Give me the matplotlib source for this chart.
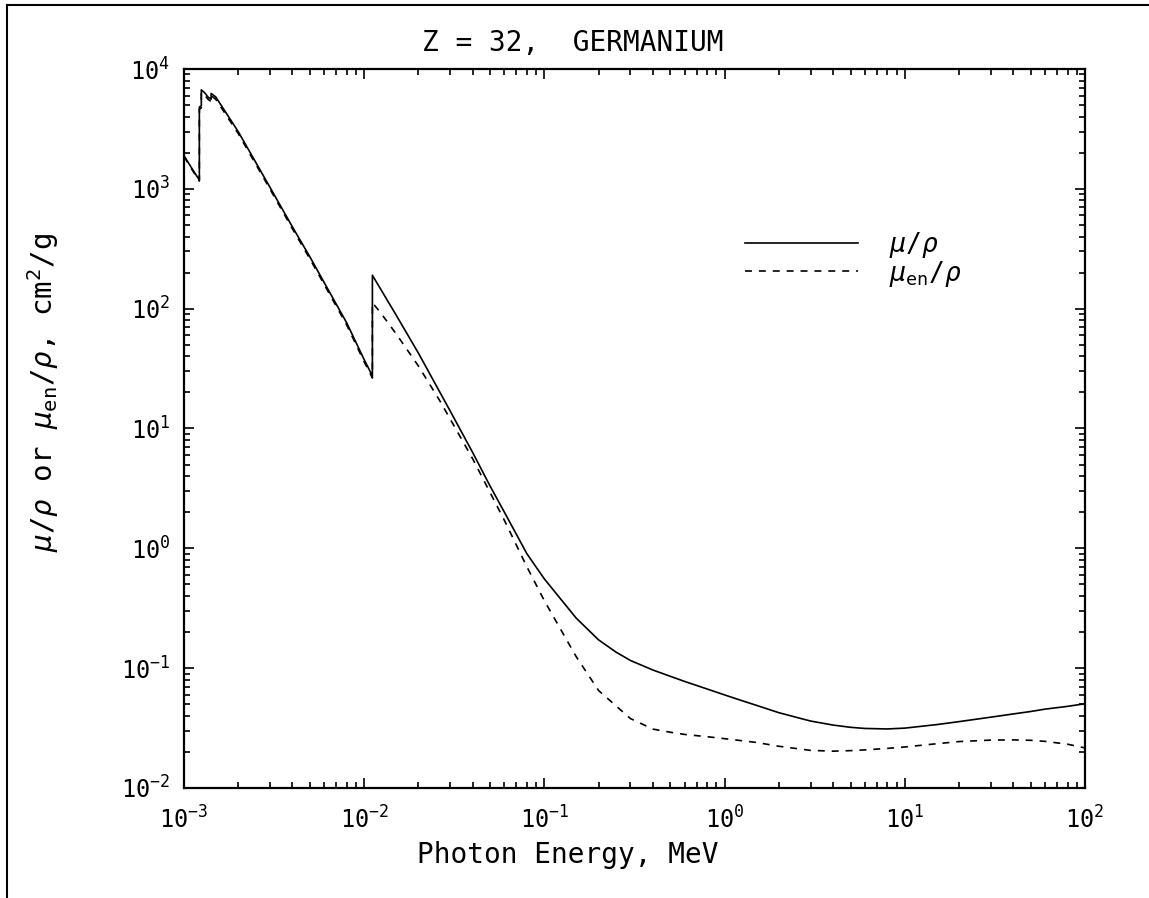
import numpy as np
import matplotlib
matplotlib.use("Agg")
import matplotlib.pyplot as plt
from matplotlib.lines import Line2D

plt.rcParams['lines.scale_dashes'] = False
plt.rcParams['font.family'] = ['DejaVu Sans Mono', 'DejaVu Sans']
plt.rcParams['mathtext.fontset'] = 'custom'
plt.rcParams['mathtext.rm'] = 'DejaVu Sans Mono'
plt.rcParams['mathtext.it'] = 'DejaVu Sans Mono:italic'
plt.rcParams['mathtext.bf'] = 'DejaVu Sans Mono:bold'

# photon energy, MeV (edges repeated)
energy_mu = [1.0e-3, 1.1e-3, 1.2167e-3, 1.2167e-3, 1.2478e-3, 1.2478e-3, 1.30e-3, 1.364e-3,
             1.4143e-3, 1.4143e-3, 1.5e-3, 2.0e-3, 3.0e-3, 4.0e-3, 5.0e-3, 6.0e-3, 8.0e-3,
             1.0e-2, 1.1103e-2, 1.1103e-2, 1.5e-2, 2.0e-2, 3.0e-2, 4.0e-2, 5.0e-2, 6.0e-2,
             8.0e-2, 0.1, 0.15, 0.2, 0.25, 0.3, 0.4, 0.5, 0.6, 0.8, 1.0, 1.25, 1.5, 2.0,
             3.0, 4.0, 5.0, 6.0, 8.0, 10.0, 15.0, 20.0, 30.0, 40.0, 50.0, 60.0, 80.0, 100.0]
# mass attenuation coefficient mu/rho, cm2/g
mu_rho = [1890, 1500, 1185, 4800, 4950, 6700, 6350, 5800,
          5600, 6250, 5850, 3000, 1030, 480, 270, 165, 76,
          37.5, 27.5, 190, 89, 42.5, 14.0, 6.3, 3.3, 2.0,
          0.90, 0.555, 0.262, 0.172, 0.136, 0.116, 0.0965, 0.0855, 0.0775, 0.0670, 0.0598,
          0.0535, 0.0490, 0.0425, 0.0362, 0.0335, 0.0321, 0.0314, 0.0311, 0.0316, 0.0338,
          0.0358, 0.0390, 0.0415, 0.0435, 0.0455, 0.0480, 0.0505]

energy_en = [1.0e-3, 1.1e-3, 1.2167e-3, 1.2167e-3, 1.2478e-3, 1.2478e-3, 1.30e-3, 1.364e-3,
             1.4143e-3, 1.4143e-3, 1.5e-3, 2.0e-3, 3.0e-3, 4.0e-3, 5.0e-3, 6.0e-3, 8.0e-3,
             1.0e-2, 1.1103e-2, 1.1103e-2, 1.22e-2, 1.5e-2, 2.0e-2, 2.63e-2, 3.0e-2, 4.0e-2,
             5.2e-2, 6.0e-2, 8.0e-2, 0.1, 0.15, 0.2, 0.3, 0.4, 0.5, 0.6, 0.8, 1.0,
             1.5, 2.0, 3.0, 4.0, 5.0, 6.0, 8.0, 10.0, 15.0, 20.0, 30.0, 40.0, 50.0, 60.0,
             80.0, 100.0]
# mass energy-absorption coefficient mu_en/rho, cm2/g
mu_en_rho = [1860, 1470, 1160, 4600, 4750, 6400, 6080, 5560,
             5370, 5980, 5600, 2890, 995, 463, 260, 159, 73,
             36.0, 26.4, 112, 94.5, 62, 33.2, 17.0, 12.0, 5.58,
             2.6, 1.71, 0.70, 0.365, 0.125, 0.065, 0.038, 0.031, 0.0292, 0.0280,
             0.0268, 0.0258, 0.0240, 0.0223, 0.0206, 0.0203, 0.0205, 0.0208, 0.0214, 0.0220,
             0.0234, 0.0244, 0.0251, 0.0252, 0.0250, 0.0245, 0.0232, 0.0216]

W, H = 1149, 898
fig = plt.figure(figsize=(W / 100, H / 100), dpi=100)
ax = fig.add_axes([184 / W, 1 - 788 / H, (1085 - 184) / W, (788 - 69) / H])

l1, = ax.plot(energy_mu, mu_rho, color='black', lw=1.2, label=r'$\mu/\rho$')
l2, = ax.plot(energy_en, mu_en_rho, color='black', lw=1.2, linestyle=(0, (5, 5)),
              label=r'$\mu_{\rm en}/\rho$')

ax.set_xscale('log')
ax.set_yscale('log')
ax.set_xlim(1e-3, 1e2)
ax.set_ylim(1e-2, 1e4)

ax.tick_params(which='both', direction='in', top=True, right=True, width=1.2)
ax.tick_params(which='major', length=7, labelsize=17, pad=10)
ax.tick_params(which='minor', length=4)
ax.tick_params(axis='x', which='major', pad=13)
for s in ax.spines.values():
    s.set_linewidth(1.6)

ax.legend(handles=[l1, l2], loc='upper left', bbox_to_anchor=(745 / W, 1 - 230 / H),
          bbox_transform=fig.transFigure, frameon=False, fontsize=19,
          handlelength=4.3, handletextpad=1.15, borderpad=0, borderaxespad=0,
          labelspacing=-0.05)

fig.text(573 / W, 1 - 43 / H, 'Z = 32,  GERMANIUM', ha='center', va='center', fontsize=20)
fig.text(568 / W, 1 - 855 / H, 'Photon Energy, MeV', ha='center', va='center', fontsize=20)
fig.text(43 / W, 1 - 392 / H, r'$\mu/\rho$ or $\mu_{\rm en}/\rho$, cm$^2$/g',
         ha='center', va='center', rotation=90, fontsize=21)

# outer frame (left and top)
fig.add_artist(Line2D([7 / W, 7 / W], [0, 1 - 5 / H], color='black', lw=1.5))
fig.add_artist(Line2D([7 / W, 1], [1 - 5 / H, 1 - 5 / H], color='black', lw=1.5))

fig.savefig('out.png', dpi=100)
